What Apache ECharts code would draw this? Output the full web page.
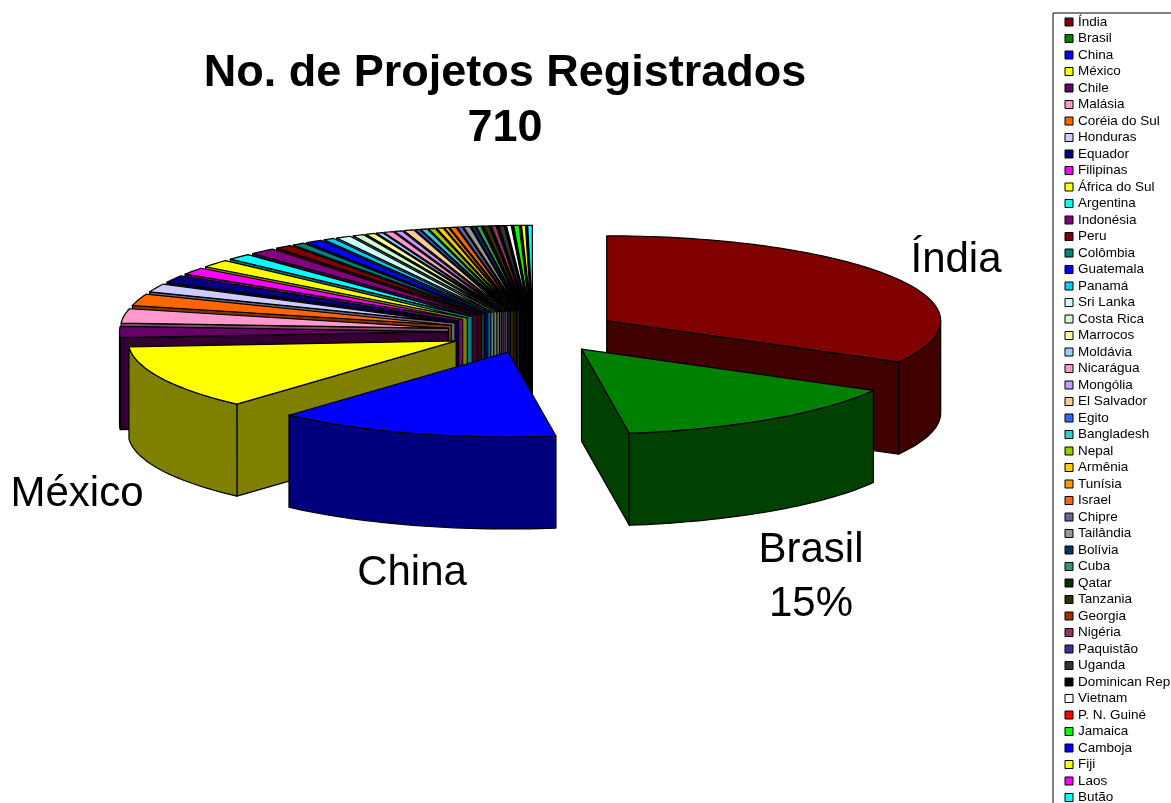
<!DOCTYPE html>
<html><head><meta charset="utf-8">
<style>html,body{margin:0;padding:0;background:#fff;overflow:hidden}#c{width:1171px;height:803px}</style>
<script src="https://cdn.jsdelivr.net/npm/echarts@6/dist/echarts.min.js"></script>
</head><body><div id="c"></div>
<script>
const countries = ['Índia','Brasil','China','México','Chile','Malásia','Coréia do Sul','Honduras','Equador','Filipinas','África do Sul','Argentina','Indonésia','Peru','Colômbia','Guatemala','Panamá','Sri Lanka','Costa Rica','Marrocos','Moldávia','Nicarágua','Mongólia','El Salvador','Egito','Bangladesh','Nepal','Armênia','Tunísia','Israel','Chipre','Tailândia','Bolívia','Cuba','Qatar','Tanzania','Georgia','Nigéria','Paquistão','Uganda','Dominican Rep','Vietnam','P. N. Guiné','Jamaica','Camboja','Fiji','Laos','Butão'];
const projects = [235,104,99,87,15,19.3,15.8,11.3,10,9.6,10.7,8.6,9,5.8,4.3,5.8,3.8,5.2,3.9,3.3,2.05,3.2,2.6,3.4,1.4,2.3,2.25,2.25,1.4,2.2,1.66,2.2,1.4,1.64,0.4,1.8,0.3,1.66,0.4,1.8,0.3,1.64,0.3,1.9,0.3,1.36,0.3,1.64];
const colors = ['#800000','#008000','#0000FF','#FFFF00','#660066','#FF99CC','#FF6600','#CCCCFF','#000080','#FF00FF','#FFFF00','#00FFFF','#800080','#800000','#008080','#0000FF','#00CCFF','#CCFFFF','#CCFFCC','#FFFF99','#99CCFF','#FF99CC','#CC99FF','#FFCC99','#3366FF','#33CCCC','#99CC00','#FFCC00','#FF9900','#FF6600','#666699','#969696','#003366','#339966','#003300','#333300','#993300','#993366','#333399','#333333','#000000','#FFFFFF','#FF0000','#00FF00','#0000FF','#FFFF00','#FF00FF','#00FFFF'];
const titleText = 'No. de Projetos Registrados\n710';

const total = projects.reduce((a,b)=>a+b,0);
const P = {cx:533, cy:331.6, rr:334, rl:328, ry:85, ex:85.5, ey:21.3, depth:92};
const rad = d => d*Math.PI/180;
const starts = []; projects.reduce((s,v,i)=>{starts[i]=s; return s+v/total*360;},0);
const mids = projects.map((v,i)=>starts[i]+v/total*180);
const order = mids.map((m,i)=>[Math.cos(rad(m)),i]).sort((a,b)=>b[0]-a[0]);
const rank = []; order.forEach((o,r)=>rank[o[1]]=r);

function dark(hex){
  const n=parseInt(hex.slice(1),16);
  return 'rgb('+((n>>16&255)>>1)+','+((n>>8&255)>>1)+','+((n&255)>>1)+')';
}
function sliceItem(params, api){
  const i=params.seriesIndex, a0=starts[i], span=api.value(0)/total*360, a1=a0+span, am=a0+span/2;
  const ax=P.cx+P.ex*Math.sin(rad(am)), ay=P.cy-P.ey*Math.cos(rad(am));
  const pt=(t,f)=>{const s=Math.sin(rad(t));return [ax+(s>0?P.rr:P.rl)*s*f, ay-P.ry*Math.cos(rad(t))*f];};
  const arc=(u,v)=>{const n=Math.max(2,Math.ceil(Math.abs(v-u)/1.5)),o=[];for(let k=0;k<=n;k++)o.push(pt(u+(v-u)*k/n,1));return o;};
  const fill=colors[i], side=dark(colors[i]);
  const line={stroke:'#000',lineWidth:1.2,lineJoin:'round'};
  const kids=[];
  const inner=pt(am,0.5);
  [a0,a1].forEach(t=>{
    const e=pt(t,1), dx=e[0]-ax, dy=e[1]-ay;
    let nx=-dy, ny=dx;
    if(nx*(inner[0]-ax)+ny*(inner[1]-ay)>0){nx=-nx;ny=-ny;}
    if(ny>0) kids.push({type:'polygon',shape:{points:[[ax,ay],e,[e[0],e[1]+P.depth],[ax,ay+P.depth]]},style:Object.assign({fill:side},line)});
  });
  const f0=Math.max(a0,90), f1=Math.min(a1,270);
  if(f1>f0){
    const top=arc(f0,f1), bot=top.map(p=>[p[0],p[1]+P.depth]).reverse();
    kids.push({type:'polygon',shape:{points:top.concat(bot)},style:Object.assign({fill:side},line)});
  }
  kids.push({type:'polygon',shape:{points:[[ax,ay]].concat(arc(a0,a1))},style:Object.assign({fill},line)});
  return {type:'group',children:kids};
}

const pct = Math.round(projects[1]/total*100);
const labelFont = '42px "Liberation Sans", Arial, sans-serif';
const lbl = (text,x,y)=>({type:'text',x,y,z:100,silent:true,style:{text,x:0,y:0,font:labelFont,fill:'#000',textAlign:'center',textVerticalAlign:'middle'}});

const chart = echarts.init(document.getElementById('c'));
chart.setOption({
  animation:false,
  backgroundColor:'#fff',
  title:{text:titleText,left:500,top:41,textAlign:'center',
    textStyle:{fontFamily:'"Liberation Sans", Arial, sans-serif',fontSize:45,fontWeight:'bold',color:'#000',lineHeight:55}},
  legend:{orient:'vertical',left:1053,top:13,height:900,padding:[2,20,2,11.5],
    backgroundColor:'#fff',borderColor:'#000',borderWidth:1,
    selectedMode:false,icon:'rect',itemWidth:8,itemHeight:8,itemGap:2.5,
    itemStyle:{borderColor:'#000',borderWidth:1},
    textStyle:{fontFamily:'"Liberation Sans", Arial, sans-serif',fontSize:13.5,lineHeight:13,color:'#000'},
    data:countries},
  graphic:[lbl(countries[0],956,260),lbl(countries[3],77,494),lbl(countries[2],412,573),
    lbl(countries[1],811,550),lbl(pct+'%',811,604)],
  series:countries.map((name,i)=>({
    type:'custom',name,coordinateSystem:'none',silent:true,clip:false,
    z:2+rank[i]/100,
    itemStyle:{color:colors[i]},
    data:[[projects[i]]],
    renderItem:sliceItem
  }))
});
</script></body></html>
